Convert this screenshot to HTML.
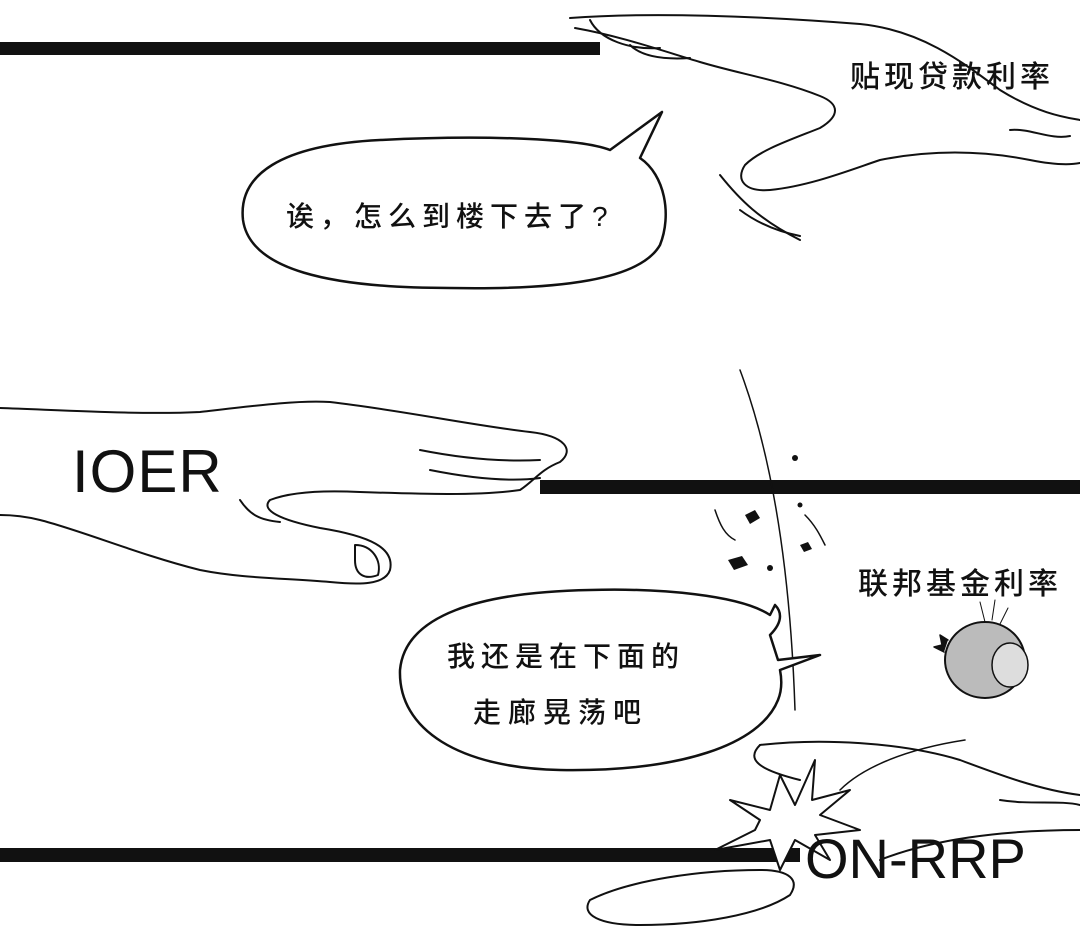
<!DOCTYPE html>
<html><head><meta charset="utf-8"><style>
html,body{margin:0;padding:0;background:#fff;}
body{width:1080px;height:935px;position:relative;overflow:hidden;font-family:"Liberation Sans","Noto Sans CJK SC",sans-serif;}
.t{position:absolute;color:#111;white-space:nowrap;}
.c{font-weight:500;}
</style></head><body>
<svg width="1080" height="935" style="position:absolute;left:0;top:0" fill="none" stroke="#111" stroke-linecap="round" stroke-linejoin="round">
<rect x="0" y="42" width="600" height="13" fill="#111" stroke="none"/>
<rect x="540" y="480" width="540" height="14" fill="#111" stroke="none"/>
<rect x="0" y="848" width="800" height="14" fill="#111" stroke="none"/>
<g stroke-width="2">
<path d="M570 18 C650 12 760 16 860 24 C920 30 960 60 1000 90 C1040 115 1070 118 1080 120"/>
<path d="M575 28 C620 36 660 50 700 62 C740 74 780 80 820 96 C840 104 840 116 820 128 C790 140 760 150 745 165 C735 180 745 192 770 190 C810 186 850 170 880 160 C930 150 980 150 1030 160 C1055 165 1070 165 1080 163"/>
<path d="M590 20 C600 40 630 50 660 48"/>
<path d="M630 45 C640 55 660 60 690 58"/>
<path d="M720 175 C740 200 760 220 800 240"/>
<path d="M740 210 C760 225 780 232 800 236"/>
<path d="M1010 130 C1030 128 1050 140 1070 136"/>
</g>
<path d="M610 150 L662 112 L640 158 C665 175 672 215 660 245 C640 280 560 290 450 288 C330 288 250 270 243 220 C238 175 280 145 380 140 C480 135 580 138 610 150 Z" fill="#fff" stroke-width="2.5"/>
<g stroke-width="2">
<path d="M0 408 C60 410 140 415 200 412 C260 405 300 400 330 402 C400 410 470 425 530 432 C565 436 575 450 560 462 C540 470 535 480 520 490 C480 496 420 494 360 492 C320 490 290 492 270 500 C260 510 280 520 320 528 C370 536 395 548 390 570 C385 585 360 585 330 582 C280 578 240 578 200 570 C140 555 80 530 40 520 C20 515 5 515 0 515"/>
<path d="M240 500 C250 515 260 520 280 522"/>
<path d="M420 450 C460 458 500 462 540 460"/>
<path d="M430 470 C470 478 510 482 540 478"/>
<path d="M355 545 C372 545 382 560 378 575 C365 580 355 575 355 560 Z"/>
</g>
<path d="M740 370 C770 450 790 560 795 710" stroke-width="1.5"/>
<g fill="#111" stroke="none">
<path d="M745 515 l10 -5 l5 8 l-10 6 z"/><path d="M728 560 l14 -4 l6 9 l-14 5 z"/>
<path d="M800 545 l8 -3 l4 7 l-8 3 z"/><circle cx="795" cy="458" r="3"/><circle cx="770" cy="568" r="3"/><circle cx="800" cy="505" r="2.5"/>
</g>
<path d="M715 510 C720 525 725 535 735 540 M805 515 C815 525 820 535 825 545" stroke-width="1.5"/>
<path d="M770 635 C785 620 780 610 775 605 L770 615 C740 595 660 588 590 590 C480 592 405 615 400 670 C398 730 460 768 560 770 C680 772 760 745 778 700 C782 690 782 680 780 670 L820 655 L778 660 Z" fill="#fff" stroke-width="2.5"/>
<ellipse cx="985" cy="660" rx="40" ry="38" fill="#bbb" stroke-width="2"/>
<ellipse cx="1010" cy="665" rx="18" ry="22" fill="#ddd" stroke-width="1.5"/>
<path d="M948 640 l-8 -5 l2 10 l-8 2 l10 5" fill="#111" stroke-width="1.5"/>
<path d="M985 622 l-5 -20 M992 620 l3 -20 M1000 624 l8 -16"/>
<path d="M965 740 C900 750 860 770 840 790" stroke-width="1.5"/>
<g stroke-width="2">
<path d="M760 745 C820 738 900 742 960 760 C1000 775 1040 790 1080 795"/>
<path d="M760 745 C745 760 760 770 800 780"/>
<path d="M1080 830 C1000 830 930 840 880 860"/>
<path d="M590 900 C630 880 700 870 760 870 C790 870 800 880 790 895 C760 915 700 925 640 925 C600 925 580 915 590 900 Z"/>
<path d="M1000 800 C1030 805 1060 800 1080 805"/>
</g>
<path d="M760 820 L730 800 L770 810 L780 775 L795 805 L815 760 L812 800 L850 790 L820 815 L860 830 L815 835 L830 860 L795 840 L780 870 L770 840 L715 850 L755 830 Z" fill="#fff" stroke-width="2"/>
</svg>
<div class="t c" style="left:850px;top:52px;font-size:30px;letter-spacing:4px;">贴现贷款利率</div>
<div class="t c" style="left:286px;top:195px;font-size:28px;letter-spacing:6px;">诶，怎么到楼下去了?</div>
<div class="t" style="left:72px;top:437px;font-size:60px;letter-spacing:1px;">IOER</div>
<div class="t c" style="left:858px;top:559px;font-size:30px;letter-spacing:4px;">联邦基金利率</div>
<div class="t c" style="left:447px;top:635px;font-size:28px;letter-spacing:6px;">我还是在下面的</div>
<div class="t c" style="left:473px;top:691px;font-size:28px;letter-spacing:7px;">走廊晃荡吧</div>
<div class="t" style="left:805px;top:826px;font-size:56px;">ON-RRP</div>
</body></html>
